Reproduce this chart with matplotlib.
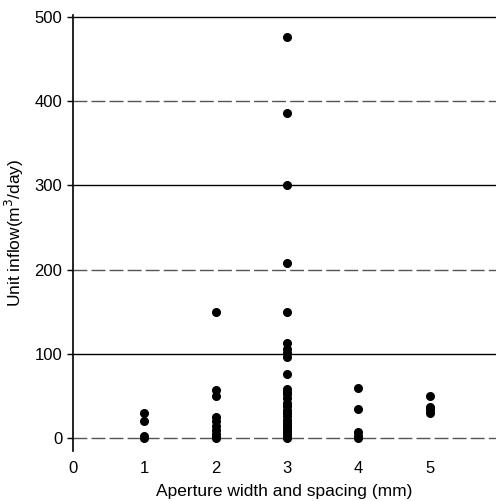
import matplotlib.pyplot as plt

plt.rcParams['font.family'] = ['Liberation Sans', 'DejaVu Sans']

# measured unit inflow grouped by aperture width/spacing
x1 = [1, 1, 1, 1]
y1 = [30, 20, 3, 0]
x2 = [2] * 10
y2 = [150, 57, 50, 25, 20, 15, 10, 5, 2, 0]
x3 = [3] * 28
y3 = [476, 386, 300, 208, 150, 113, 106, 101, 96, 76, 59, 55, 52, 48, 42,
      38, 34, 30, 26, 22, 18, 15, 12, 9, 6, 3, 1, 0]
x4 = [4] * 5
y4 = [60, 35, 7, 3, 0]
x5 = [5] * 4
y5 = [50, 37, 33, 30]

xs = x1 + x2 + x3 + x4 + x5
ys = y1 + y2 + y3 + y4 + y5

grid_solid = [100, 300, 500]
grid_dashed = [0, 200, 400]

fig = plt.figure(figsize=(4.96, 5.01), dpi=100)
ax = fig.add_axes([0.147, 0.1, 0.853, 0.87])

for g in grid_solid:
    ax.axhline(g, color='black', lw=1.0, zorder=1)
for g in grid_dashed:
    ax.axhline(g, color='#555555', lw=1.0, dashes=(10, 3), zorder=1)

ax.plot(xs, ys, 'o', color='black', ms=5.5, zorder=3)

ax.set_xlim(0, 5.93)
ax.set_ylim(-15, 502)
ax.set_xticks([0, 1, 2, 3, 4, 5])
ax.set_yticks([0, 100, 200, 300, 400, 500])
ax.tick_params(axis='x', length=0, pad=7, labelsize=12)
ax.tick_params(axis='y', length=4, width=1, direction='out', labelsize=12)

for s in ['top', 'right', 'bottom']:
    ax.spines[s].set_visible(False)
ax.spines['left'].set_linewidth(1.2)

ax.set_xlabel('Aperture width and spacing (mm)', fontsize=12.5, labelpad=6)
ax.set_ylabel('Unit inflow(m$^3$/day)', fontsize=12.5, labelpad=6)

fig.savefig('out.png', dpi=100)
